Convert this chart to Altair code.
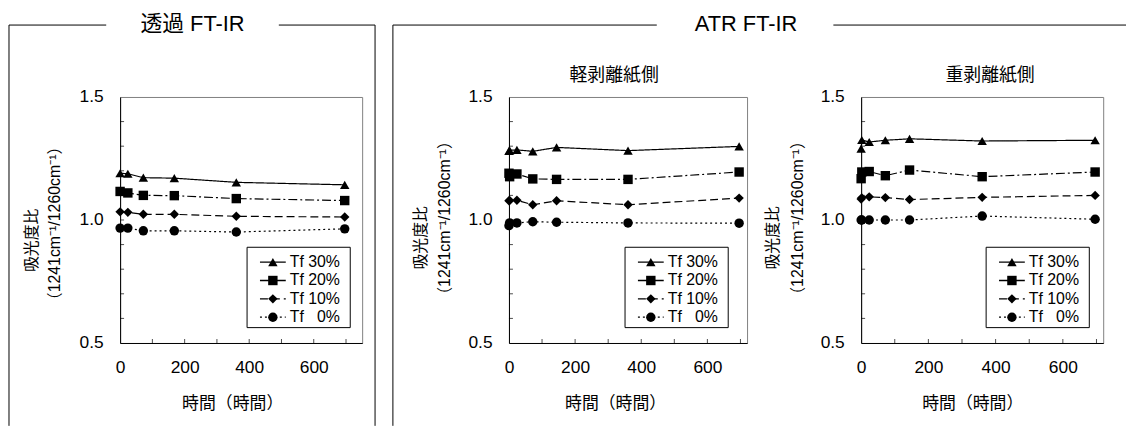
import altair as alt
import pandas as pd

FONT = "Liberation Sans, Noto Sans CJK JP"

SERIES = ["Tf 30%", "Tf 20%", "Tf 10%", "Tf \u20070%"]
SHAPES = ["triangle-up", "square", "diamond", "circle"]
DASHES = [[1, 0], [9, 3, 2, 3], [8, 4], [2, 3]]

Y_LABELS = [0.5, 1.0, 1.5]
Y_TICKS = [0.6, 0.7, 0.8, 0.9, 1.0, 1.1, 1.2, 1.3, 1.4]
X_LABELS = [0, 200, 400, 600]
X_TICKS = [100, 200, 300, 400, 500, 600, 700]

# Panel 1: 透過 FT-IR
T_HOURS = [0, 24, 72, 168, 360, 696]
T_TF30 = [1.190, 1.188, 1.172, 1.170, 1.153, 1.143]
T_TF20 = [1.116, 1.110, 1.100, 1.099, 1.087, 1.079]
T_TF10 = [1.033, 1.031, 1.023, 1.023, 1.015, 1.012]
T_TF0 = [0.967, 0.967, 0.956, 0.956, 0.951, 0.964]

# Panel 2: ATR 軽剥離紙側
L_HOURS = [0, 2, 24, 72, 144, 360, 696]
L_TF30 = [1.281, 1.283, 1.285, 1.279, 1.295, 1.282, 1.299]
L_TF20 = [1.190, 1.176, 1.187, 1.167, 1.165, 1.165, 1.195]
L_TF10 = [1.078, 1.079, 1.080, 1.062, 1.078, 1.062, 1.089]
L_TF0 = [0.977, 0.988, 0.988, 0.993, 0.991, 0.988, 0.987]

# Panel 3: ATR 重剥離紙側
H_HOURS = [0, 2, 24, 72, 144, 360, 696]
H_TF30 = [1.290, 1.325, 1.317, 1.324, 1.330, 1.321, 1.324]
H_TF20 = [1.168, 1.195, 1.197, 1.180, 1.203, 1.176, 1.195]
H_TF10 = [1.085, 1.090, 1.094, 1.091, 1.083, 1.092, 1.100]
H_TF0 = [1.000, 1.000, 1.000, 1.000, 1.000, 1.016, 1.003]

X_TITLE = "時間（時間）"
Y_TITLE1 = "吸光度比"
Y_TITLE2 = "（1241cm⁻¹/1260cm⁻¹）"

H = 248
MARK_SIZE = 90


def long_df(hours, series_vals):
    rows = []
    for name, vals in zip(SERIES, series_vals):
        for h, v in zip(hours, vals):
            rows.append({"hour": h, "ratio": v, "series": name})
    return pd.DataFrame(rows)


def one():
    return alt.Chart(pd.DataFrame({"k": [0]}))


def text_layer(txt, x, y, size, angle=0, align="center"):
    return alt.Chart(pd.DataFrame({"t": [txt]})).mark_text(
        font=FONT, fontSize=size, color="black", align=align,
        baseline="middle", angle=angle
    ).encode(text="t:N", x=alt.value(x), y=alt.value(y))


def hrule(x1, x2, y, dash=None, width=1):
    kw = {"color": "black", "strokeWidth": width}
    if dash is not None:
        kw["strokeDash"] = dash
    return one().mark_rule(**kw).encode(
        x=alt.value(x1), x2=alt.value(x2), y=alt.value(y))


def vrule(x, y1, y2):
    return one().mark_rule(color="black", strokeWidth=1).encode(
        x=alt.value(x), y=alt.value(y1), y2=alt.value(y2))


def legend_layers(lx, ly):
    """Legend box drawn inside the plot, one row per series."""
    layers = [one().mark_rect(fill="white", stroke="black", strokeWidth=1).encode(
        x=alt.value(lx), x2=alt.value(lx + 104),
        y=alt.value(ly), y2=alt.value(ly + 81))]
    for i, (name, shape, dash) in enumerate(zip(SERIES, SHAPES, DASHES)):
        ry = ly + 15 + 18.5 * i
        layers.append(hrule(lx + 13, lx + 39, ry, dash=dash, width=1.3))
        layers.append(one().mark_point(
            shape=shape, filled=True, color="black", opacity=1, size=MARK_SIZE
        ).encode(x=alt.value(lx + 26), y=alt.value(ry)))
        layers.append(text_layer(name, lx + 43, ry, 16, align="left"))
    return layers


def panel(hours, series_vals, width, xmax, legend_x, xtitle_x, ytitle_pos, extras):
    df = long_df(hours, series_vals)
    xs = alt.Scale(domain=[0, xmax], nice=False, zero=False)
    ys = alt.Scale(domain=[0.5, 1.5], nice=False, zero=False)
    x = alt.X("hour:Q", scale=xs, axis=alt.Axis(
        values=X_LABELS, ticks=False, grid=False, labelFlush=False,
        labelOverlap=False, labelFont=FONT, labelFontSize=17.5,
        labelColor="black", labelPadding=16, domainColor="black",
        title=X_TITLE, titleFont=FONT, titleFontSize=17,
        titleFontWeight="normal", titleColor="black",
        titleX=xtitle_x, titleY=61, titleBaseline="middle",
        titleAlign="center"))
    y = alt.Y("ratio:Q", scale=ys, axis=alt.Axis(
        values=Y_LABELS, format=".1f", ticks=False, grid=False,
        labelFlush=False, labelOverlap=False, labelFont=FONT,
        labelFontSize=17.5, labelColor="black", labelPadding=17,
        domainColor="black", title=None))

    base = alt.Chart(df)
    lines = base.mark_line(color="black", strokeWidth=1.2).encode(
        x=x, y=y,
        strokeDash=alt.StrokeDash("series:N", scale=alt.Scale(domain=SERIES, range=DASHES), legend=None))
    points = base.mark_point(filled=True, color="black", opacity=1, size=MARK_SIZE).encode(
        x=x, y=y,
        shape=alt.Shape("series:N", scale=alt.Scale(domain=SERIES, range=SHAPES), legend=None))

    yt = alt.Chart(pd.DataFrame({"ratio": Y_TICKS})).mark_tick(
        orient="horizontal", size=4, thickness=1, color="black"
    ).encode(y=alt.Y("ratio:Q", scale=ys), x=alt.value(2))
    xt = alt.Chart(pd.DataFrame({"hour": X_TICKS})).mark_tick(
        orient="vertical", size=4, thickness=1, color="black"
    ).encode(x=alt.X("hour:Q", scale=xs), y=alt.value(H - 2))

    (t1x, t1y), (t2x, t2y) = ytitle_pos
    ytitles = [text_layer(Y_TITLE1, t1x, t1y, 16, 270),
               text_layer(Y_TITLE2, t2x, t2y, 16, 270)]

    return alt.layer(
        *extras, lines, points, yt, xt, *legend_layers(legend_x, 151.5), *ytitles
    ).properties(width=width, height=H)


p1_extras = [
    vrule(-112, -72.5, 331.5), vrule(257, -72.5, 331.5),
    hrule(-112, -14, -72.5), hrule(160, 257, -72.5),
    text_layer("透過 FT-IR", 73, -73.5, 22),
]
p2_extras = [
    vrule(-117, -72.5, 331.5),
    hrule(-117, 149, -72.5), hrule(327, 622, -72.5),
    text_layer("ATR FT-IR", 239, -73.5, 22),
    text_layer("軽剥離紙側", 106, -21, 18),
]
p3_extras = [
    text_layer("重剥離紙側", 130, -21, 18),
]

p1 = panel(T_HOURS, [T_TF30, T_TF20, T_TF10, T_TF0], 244, 750, 128, 113,
           ((-89, 144.5), (-66, 127.5)), p1_extras)
p2 = panel(L_HOURS, [L_TF30, L_TF20, L_TF10, L_TF0], 240, 720, 117, 107,
           ((-88.5, 142), (-64, 122)), p2_extras)
p3 = panel(H_HOURS, [H_TF30, H_TF20, H_TF10, H_TF0], 244, 720, 126, 112,
           ((-88.5, 142), (-64, 122)), p3_extras)

inner = alt.hconcat(p2, p3, spacing=115, bounds="flush")
chart = alt.hconcat(p1, inner, spacing=148, bounds="flush").properties(
    padding={"left": 0, "top": 3, "right": 0, "bottom": 0},
    background="white",
).configure_view(stroke="#808080", strokeWidth=1)

chart.save("out.html", embed_options={"renderer": "svg", "actions": False})
